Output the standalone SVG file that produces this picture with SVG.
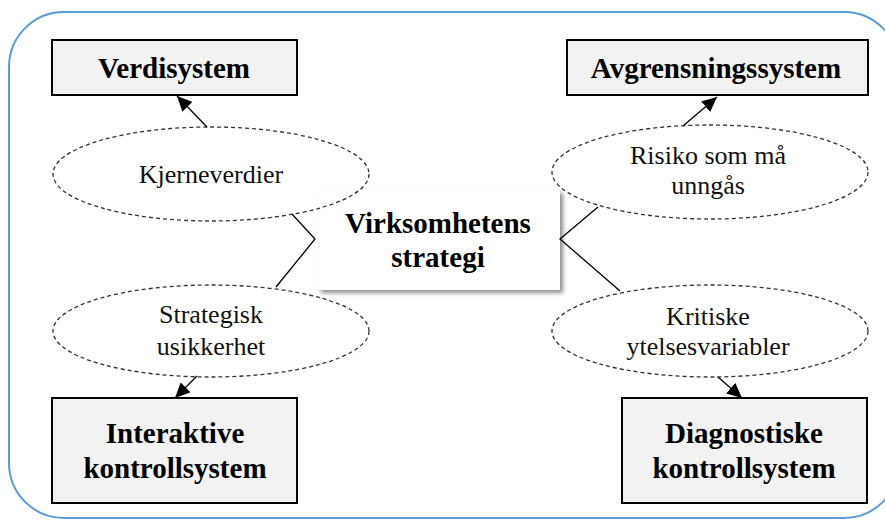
<svg xmlns="http://www.w3.org/2000/svg" width="885" height="521" viewBox="0 0 885 521">
  <style>
    .box { fill: #f2f2f2; stroke: #000; stroke-width: 2; }
    .ell { fill: none; stroke: #333; stroke-width: 1.3; stroke-dasharray: 4 3; }
    .bt { font-family: "Liberation Serif", "Times New Roman", serif; font-weight: bold; font-size: 29px; fill: #000; text-anchor: middle; }
    .rt { font-family: "Liberation Serif", "Times New Roman", serif; font-size: 26px; fill: #111; text-anchor: middle; }
    .ln { fill: none; stroke: #000; stroke-width: 1.3; }
  </style>
  <defs>
    <marker id="ah" markerUnits="userSpaceOnUse" markerWidth="16" markerHeight="14" refX="15" refY="7" orient="auto">
      <path d="M0,0 L15,7 L0,14 Z" fill="#000"/>
    </marker>
    <filter id="sh" x="-10%" y="-10%" width="120%" height="130%">
      <feDropShadow dx="3" dy="3" stdDeviation="2" flood-color="#000" flood-opacity="0.45"/>
    </filter>
  </defs>
  <rect x="0" y="0" width="885" height="521" fill="#fff"/>
  <rect x="9" y="12" width="890" height="506" rx="55" ry="55" fill="none" stroke="#5b9bd5" stroke-width="2"/>

  <g id="strategi">
    <rect x="318" y="190" width="242" height="100" fill="#fff" filter="url(#sh)"/>
    <text class="bt" x="438" y="233">Virksomhetens</text>
    <text class="bt" x="438" y="267">strategi</text>
  </g>

  <g id="verdisystem">
    <rect class="box" x="52" y="40" width="245" height="55"/>
    <text class="bt" x="174" y="78">Verdisystem</text>
  </g>
  <g id="avgrensningssystem">
    <rect class="box" x="567" y="40" width="301" height="55"/>
    <text class="bt" x="716" y="78">Avgrensningssystem</text>
  </g>
  <g id="interaktive">
    <rect class="box" x="52" y="398" width="245" height="105"/>
    <text class="bt" x="175" y="443">Interaktive</text>
    <text class="bt" x="175" y="478">kontrollsystem</text>
  </g>
  <g id="diagnostiske">
    <rect class="box" x="622" y="398" width="245" height="105"/>
    <text class="bt" x="744" y="443">Diagnostiske</text>
    <text class="bt" x="744" y="478">kontrollsystem</text>
  </g>

  <g id="kjerneverdier">
    <ellipse class="ell" cx="211" cy="174" rx="158" ry="47"/>
    <text class="rt" x="211" y="183">Kjerneverdier</text>
  </g>
  <g id="risiko">
    <ellipse class="ell" cx="710" cy="172" rx="158" ry="47"/>
    <text class="rt" x="708" y="164">Risiko som må</text>
    <text class="rt" x="708" y="194">unngås</text>
  </g>
  <g id="strategisk">
    <ellipse class="ell" cx="211" cy="331" rx="158" ry="46"/>
    <text class="rt" x="211" y="323">Strategisk</text>
    <text class="rt" x="211" y="355">usikkerhet</text>
  </g>
  <g id="kritiske">
    <ellipse class="ell" cx="710" cy="331" rx="158" ry="46"/>
    <text class="rt" x="708" y="325">Kritiske</text>
    <text class="rt" x="708" y="355">ytelsesvariabler</text>
  </g>

  <g id="connectors">
    <polyline class="ln" points="292,214 315,239 276,287"/>
    <polyline class="ln" points="598,207 560,239 620,291"/>
    <line class="ln" x1="207" y1="127" x2="177" y2="96" marker-end="url(#ah)"/>
    <line class="ln" x1="683" y1="126" x2="717" y2="97" marker-end="url(#ah)"/>
    <line class="ln" x1="197" y1="376" x2="175" y2="398" marker-end="url(#ah)"/>
    <line class="ln" x1="718" y1="377" x2="742" y2="398" marker-end="url(#ah)"/>
  </g>
</svg>
